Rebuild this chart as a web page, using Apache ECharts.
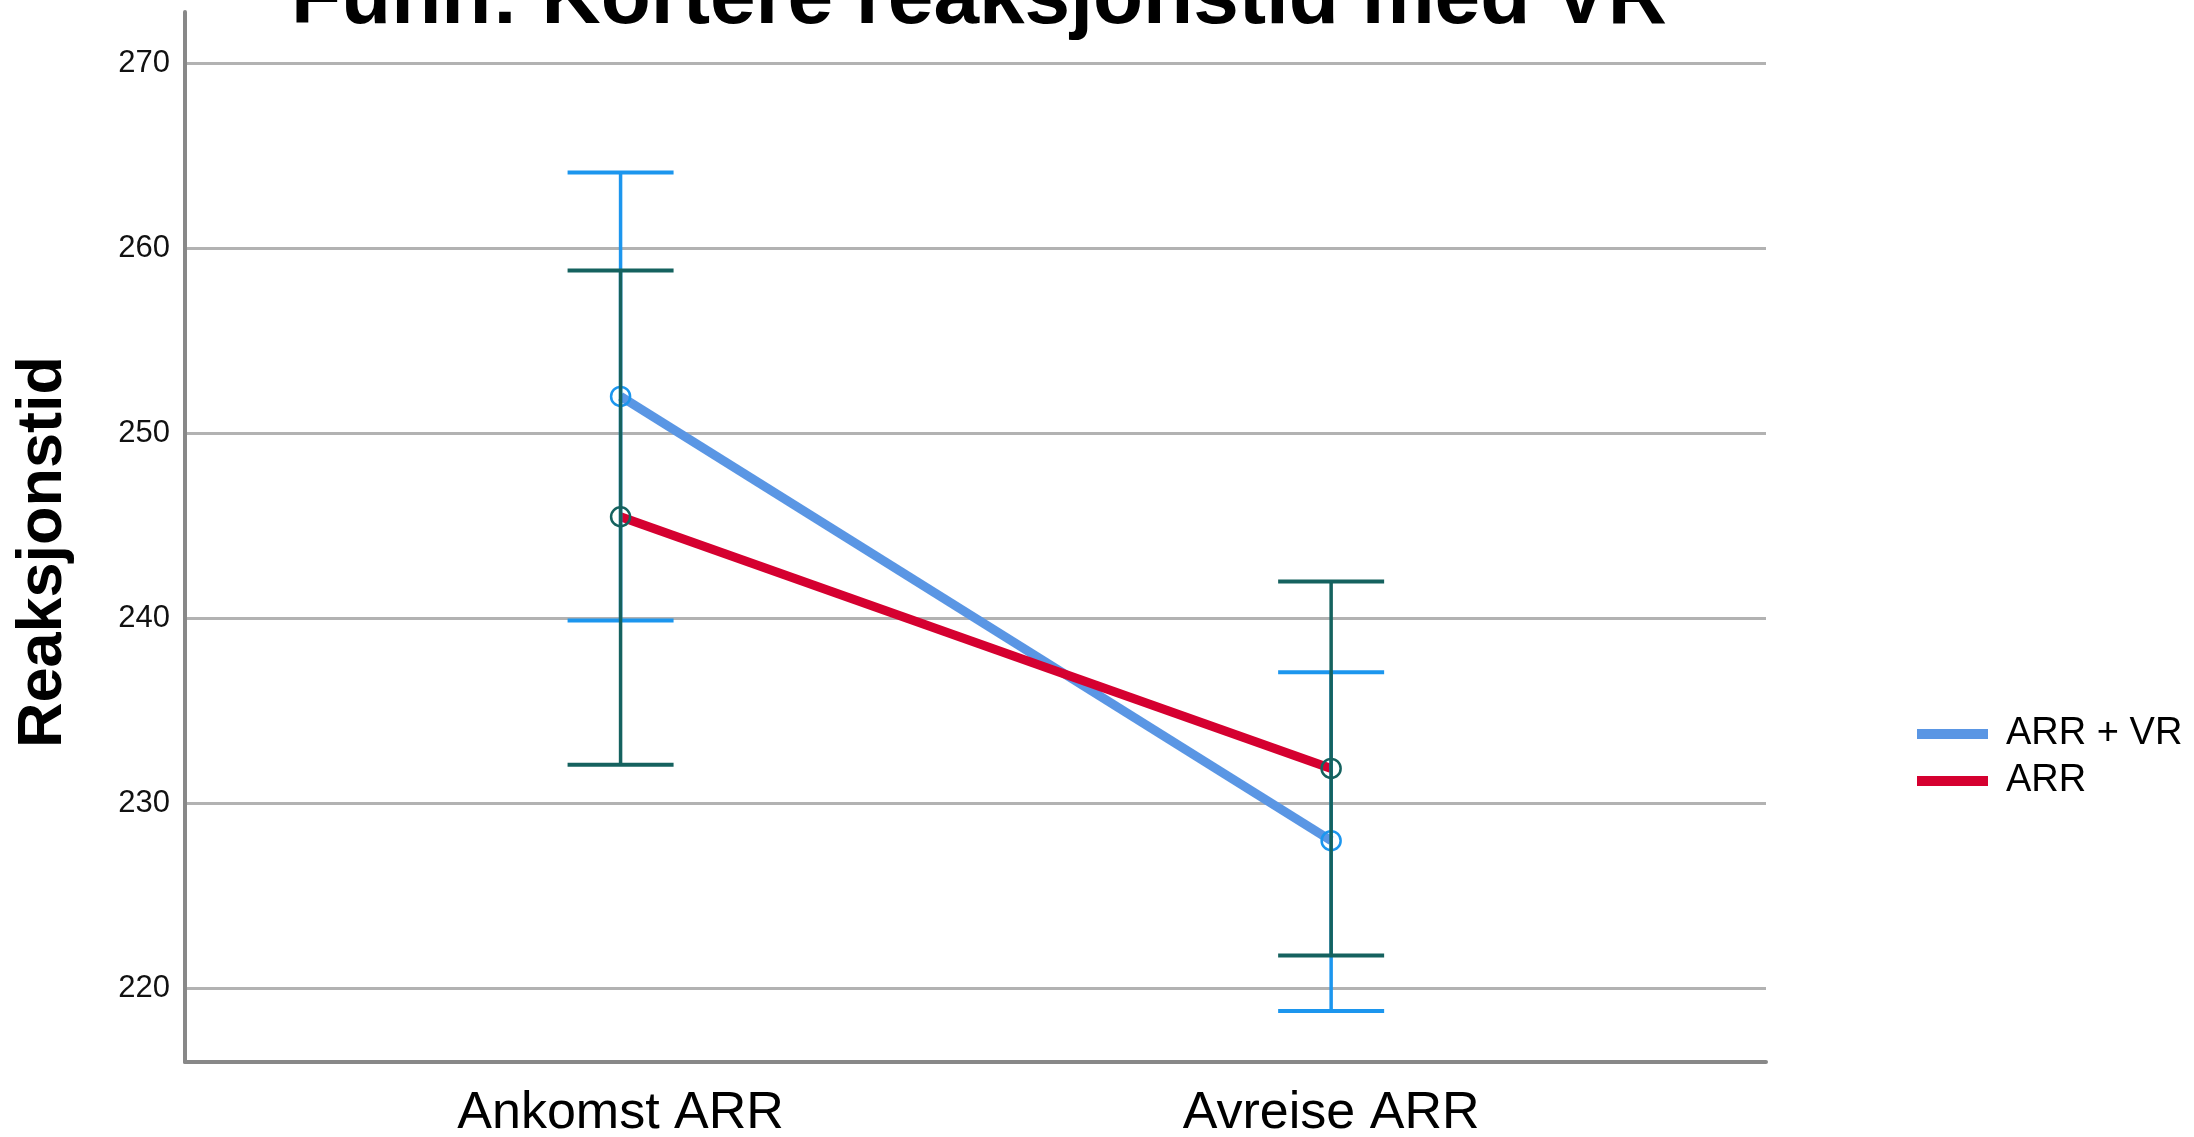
<!DOCTYPE html>
<html>
<head>
<meta charset="utf-8">
<script src="https://cdn.jsdelivr.net/npm/echarts@6/dist/echarts.min.js"></script>
<style>
html,body{margin:0;padding:0;background:#fff;}
#chart{width:2194px;height:1137px;}
</style>
</head>
<body>
<div id="chart"></div>
<script>
const titleText = 'Funn: Kortere reaksjonstid med VR';
const yName = 'Reaksjonstid';
const categories = ['Ankomst ARR', 'Avreise ARR'];
const seriesNames = ['ARR + VR', 'ARR'];
const meanVR = [252.0, 228.0];
const lowVR = [239.9, 218.8];
const highVR = [264.1, 237.1];
const meanARR = [245.5, 231.9];
const lowARR = [232.1, 221.8];
const highARR = [258.8, 242.0];
const yTicks = [220, 230, 240, 250, 260, 270];

const lineColors = ['#5a96e4', '#d50030'];
const barColors = ['#1c96ee', '#15625f'];

function pts(means) { return means.map((v, i) => [i, v]); }
function bars(low, high, means) { return means.map((v, i) => [i, low[i], high[i], v]); }

function renderBar(color) {
  return function (params, api) {
    const x = api.value(0);
    const lo = api.coord([x, api.value(1)]);
    const hi = api.coord([x, api.value(2)]);
    const mid = api.coord([x, api.value(3)]);
    const hw = 53;
    return {
      type: 'group',
      children: [
        { type: 'circle', shape: { cx: mid[0], cy: mid[1], r: 9.5 },
          style: { fill: 'none', stroke: color, lineWidth: 2.5 } },
        { type: 'line', shape: { x1: lo[0], y1: lo[1], x2: hi[0], y2: hi[1] },
          style: { stroke: color, lineWidth: 3.5 } },
        { type: 'line', shape: { x1: hi[0] - hw, y1: hi[1], x2: hi[0] + hw, y2: hi[1] },
          style: { stroke: color, lineWidth: 4 } },
        { type: 'line', shape: { x1: lo[0] - hw, y1: lo[1], x2: lo[0] + hw, y2: lo[1] },
          style: { stroke: color, lineWidth: 4 } }
      ]
    };
  };
}

const chart = echarts.init(document.getElementById('chart'));
chart.setOption({
  backgroundColor: '#ffffff',
  animation: false,
  graphic: [{
    type: 'text', x: 979, y: 0,
    style: { text: titleText, fontFamily: 'Liberation Sans', fontWeight: 'bold', fontSize: 82,
      fill: '#000', textAlign: 'center', textVerticalAlign: 'middle' }
  }],
  grid: { left: 185, right: 428, top: 12, bottom: 75, outerBoundsMode: 'none', containLabel: false },
  legend: {
    orient: 'vertical', left: 1912, top: 710, itemWidth: 71, itemHeight: 10, itemGap: 9,
    icon: 'rect',
    data: [
      { name: seriesNames[0], itemStyle: { color: lineColors[0] } },
      { name: seriesNames[1], itemStyle: { color: lineColors[1] } }
    ],
    textStyle: { fontFamily: 'Liberation Sans', fontSize: 38, color: '#000', padding: [0, 0, 0, 13] }
  },
  xAxis: {
    type: 'value', min: -0.613, max: 1.612,
    axisLine: { show: true, onZero: false, lineStyle: { color: '#888', width: 4 } },
    axisTick: { show: false },
    splitLine: { show: false },
    axisLabel: {
      customValues: [0, 1],
      formatter: v => categories[Math.round(v)] || '',
      fontFamily: 'Liberation Sans', fontSize: 52, color: '#000', margin: 26
    }
  },
  yAxis: {
    type: 'value', min: 216.04, max: 272.77,
    name: yName, nameLocation: 'middle', nameGap: 110,
    nameTextStyle: { fontFamily: 'Liberation Sans', fontWeight: 'bold', fontSize: 63, color: '#000', padding: [0, 30, 0, 0] },
    axisLine: { show: true, onZero: false, lineStyle: { color: '#888', width: 4 } },
    axisTick: { show: false, customValues: yTicks },
    splitLine: { show: true, lineStyle: { color: '#b2b2b2', width: 3 } },
    axisLabel: { customValues: yTicks, fontFamily: 'Liberation Sans', fontSize: 31, color: '#111', margin: 15 }
  },
  series: [
    { name: seriesNames[0], type: 'line', data: pts(meanVR), showSymbol: false, z: 2,
      lineStyle: { color: lineColors[0], width: 9 }, itemStyle: { color: lineColors[0] } },
    { name: seriesNames[1], type: 'line', data: pts(meanARR), showSymbol: false, z: 3,
      lineStyle: { color: lineColors[1], width: 9 }, itemStyle: { color: lineColors[1] } },
    { type: 'custom', name: 'errVR', data: bars(lowVR, highVR, meanVR), z: 4,
      encode: { x: 0, y: [1, 2, 3] }, renderItem: renderBar(barColors[0]) },
    { type: 'custom', name: 'errARR', data: bars(lowARR, highARR, meanARR), z: 5,
      encode: { x: 0, y: [1, 2, 3] }, renderItem: renderBar(barColors[1]) }
  ]
});
</script>
</body>
</html>
